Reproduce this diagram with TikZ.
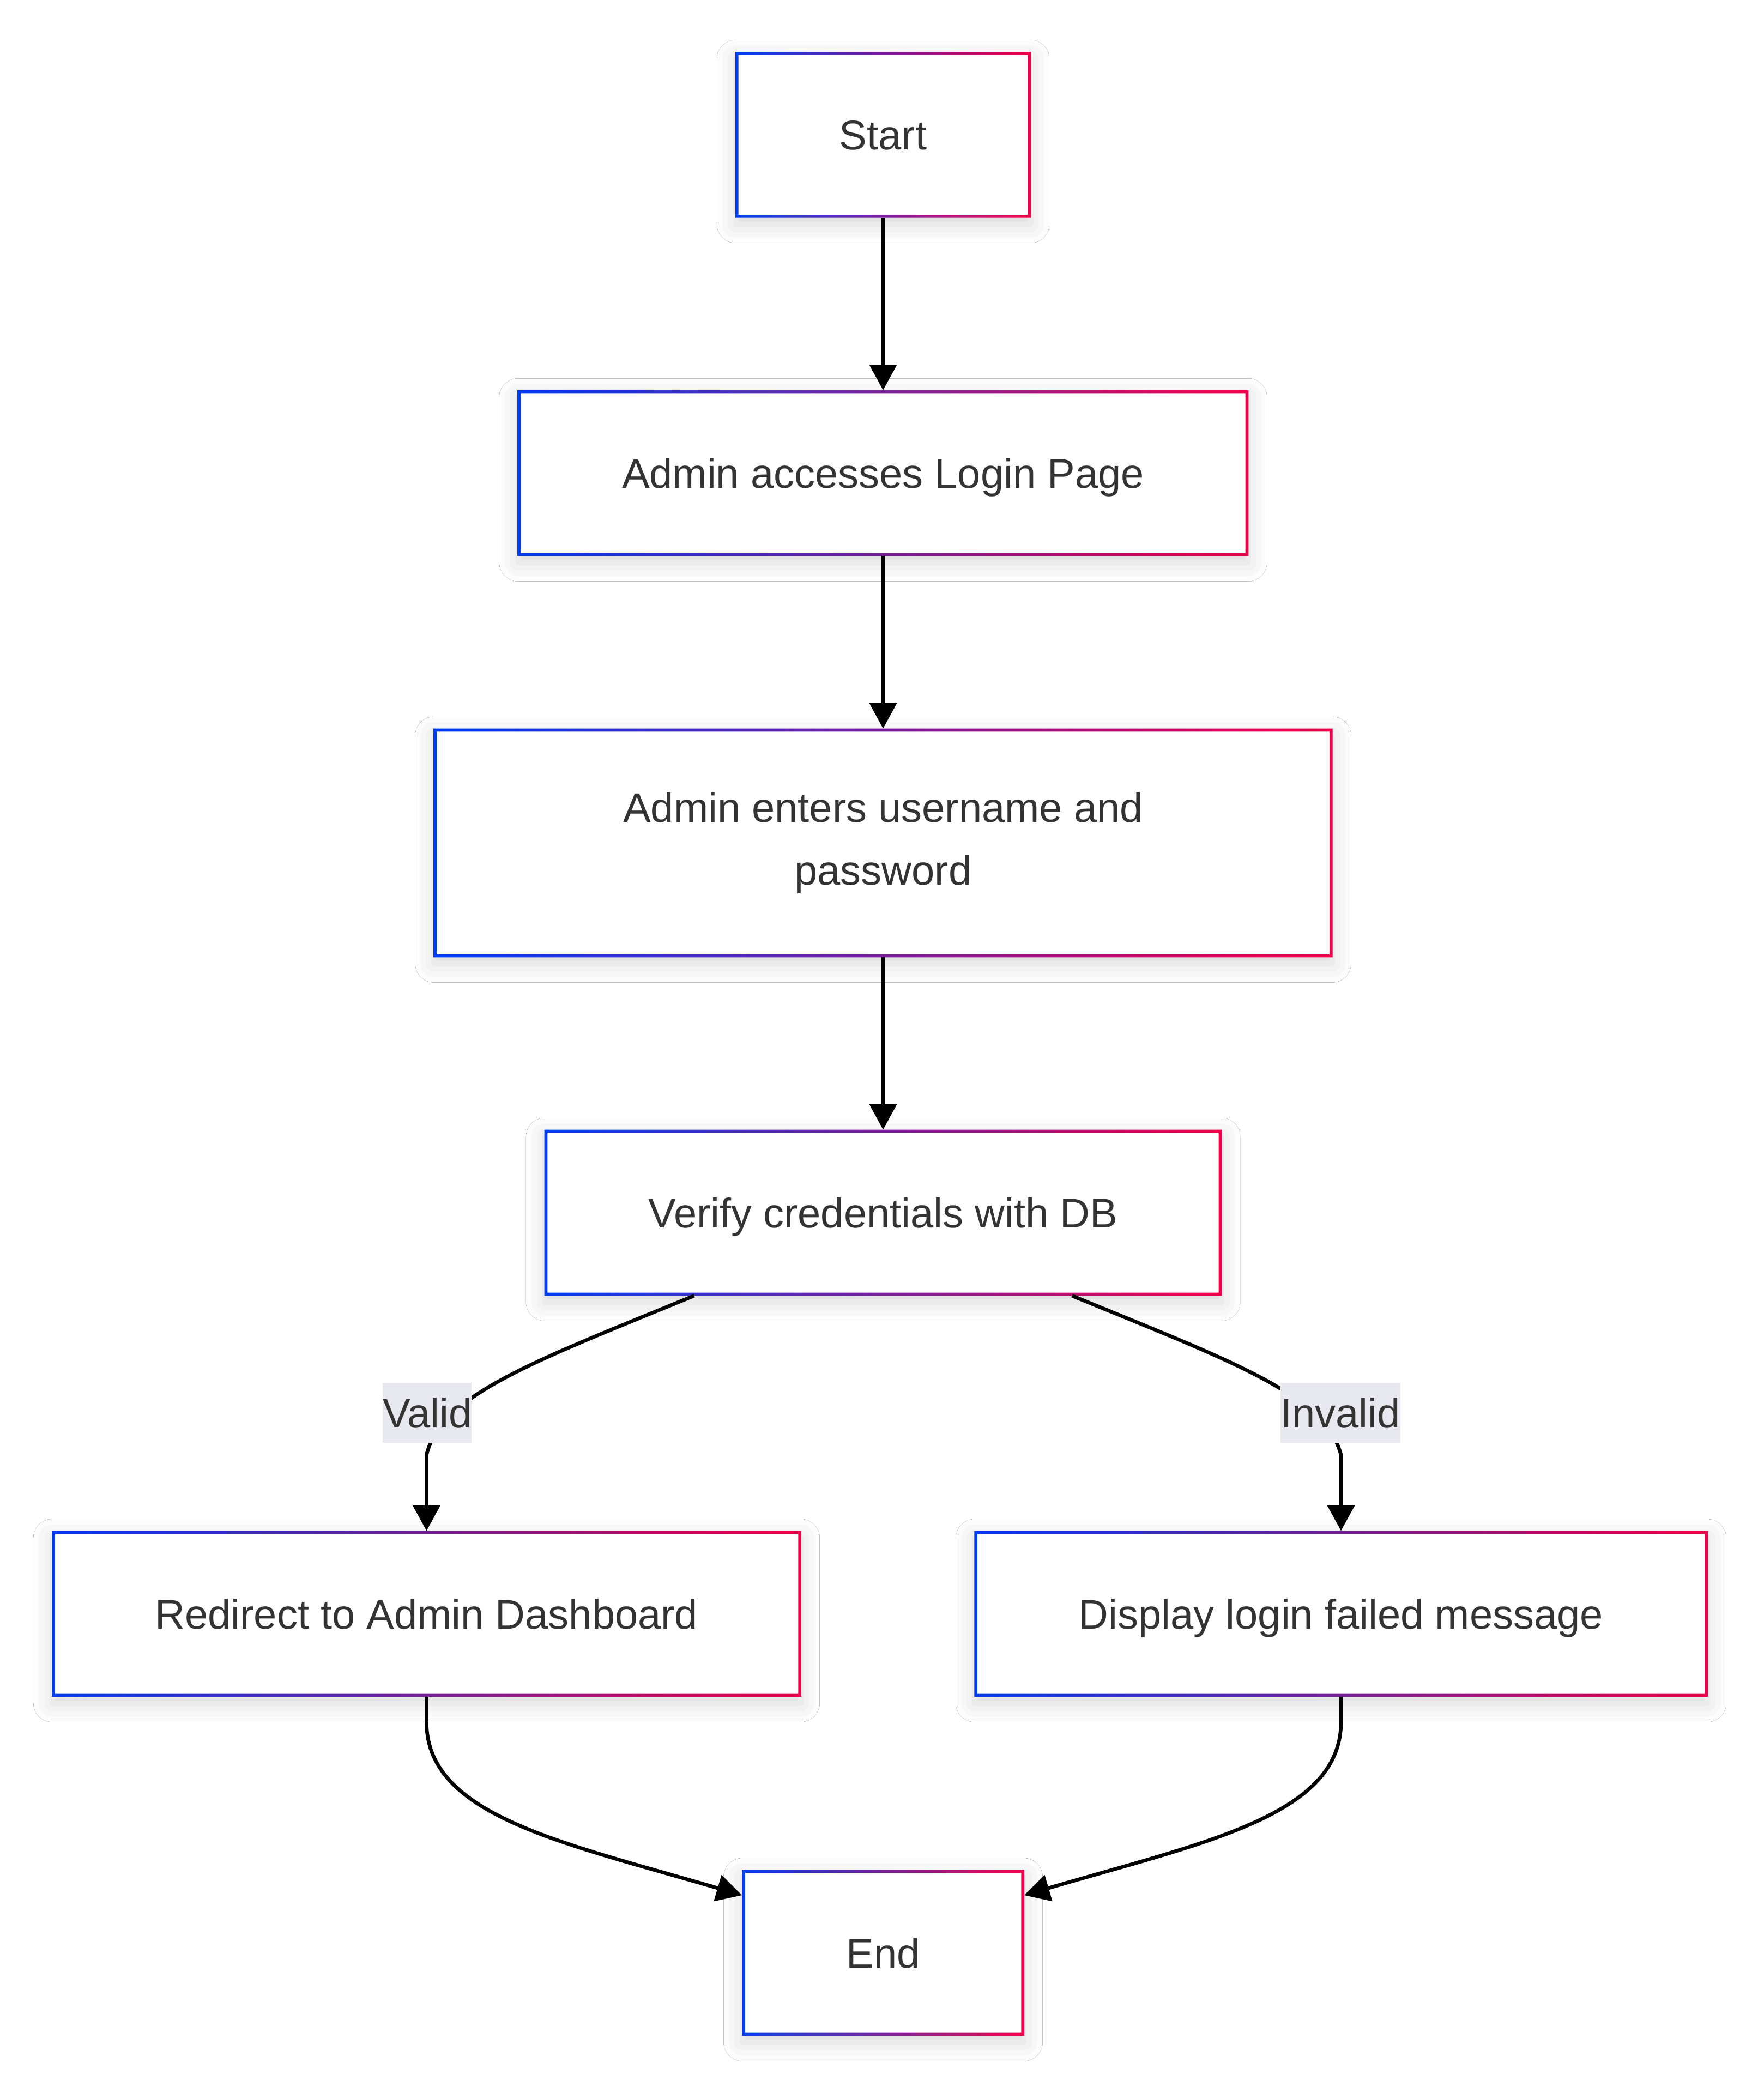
\documentclass[tikz,border=0pt]{standalone}
\usepackage{fontspec}
\setmainfont{Liberation Sans}
\usetikzlibrary{arrows.meta,shadows.blur,calc}
\definecolor{bl}{RGB}{0,62,240}
\definecolor{rd}{RGB}{240,0,72}
\definecolor{txt}{RGB}{51,51,51}
\definecolor{lblbg}{RGB}{232,232,240}
\tikzset{
 box/.style={rectangle, fill=white, draw=none, minimum height=124pt, inner sep=0pt,
   text=txt, font=\fontsize{31}{47}\selectfont, align=center,
   blur shadow={shadow xshift=0pt, shadow yshift=-5pt, shadow blur radius=14pt, shadow opacity=16}},
 one/.style={text height=22.3pt, text depth=0pt},
 lbl/.style={fill=lblbg, inner xsep=0pt, inner ysep=0pt, minimum height=45pt, text=txt,
   font=\fontsize{31}{47}\selectfont, text height=22.3pt, text depth=0pt},
 edge/.style={line width=2.7pt, -{Triangle[length=19pt,width=20pt]}}
}
\begin{document}
\begin{tikzpicture}[x=1pt,y=-1pt]
\fill[white] (0,0) rectangle (1321,1568);
\useasboundingbox (0,0) rectangle (1321,1568);

\node[box, one, minimum width=221pt] (start) at (661.5,101) {Start};
\node[box, one, minimum width=547pt] (login) at (661.5,354.5) {Admin accesses Login Page};
\node[box, minimum width=673pt, minimum height=171pt] (enter) at (661.5,631.5) {Admin enters username and\\password};
\node[box, one, minimum width=507pt] (verify) at (661.5,908.5) {Verify credentials with DB};
\node[box, one, minimum width=561pt] (redirect) at (319.5,1209) {Redirect to Admin Dashboard};
\node[box, one, minimum width=549pt] (display) at (1004.5,1209) {Display login failed message};
\node[box, one, minimum width=211pt] (finish) at (661.5,1463) {End};

\foreach \n in {start,login,enter,verify,redirect,display,finish}{
  \shade[left color=bl, right color=rd, even odd rule]
    (\n.north west) rectangle (\n.south east)
    ([shift={(2.3pt,-2.3pt)}]\n.north west) rectangle ([shift={(-2.3pt,2.3pt)}]\n.south east);
}

\draw[edge] (start) -- (login);
\draw[edge] (login) -- (enter);
\draw[edge] (enter) -- (verify);

\coordinate (v0) at ($(verify.south)+(-141.5,0)$);
\coordinate (i0) at ($(verify.south)+(141.5,0)$);
\draw[edge] (v0) .. controls (400,1020) and (330,1045) .. (319.5,1090) -- (redirect.north);
\draw[edge] (i0) .. controls (923,1020) and (993,1045) .. (1004.5,1090) -- (display.north);

\node[lbl] (valid) at (320,1058.5) {Valid};
\node[lbl] (invalid) at (1004,1058.5) {Invalid};

\coordinate (eL) at ($(finish.north west)+(0,19)$);
\coordinate (eR) at ($(finish.north east)+(0,19)$);
\draw[edge] (redirect.south) -- (319.5,1290) .. controls (319.5,1360) and (420,1380) .. (eL);
\draw[edge] (display.south) -- (1004.5,1290) .. controls (1004.5,1360) and (903,1380) .. (eR);
\end{tikzpicture}
\end{document}
